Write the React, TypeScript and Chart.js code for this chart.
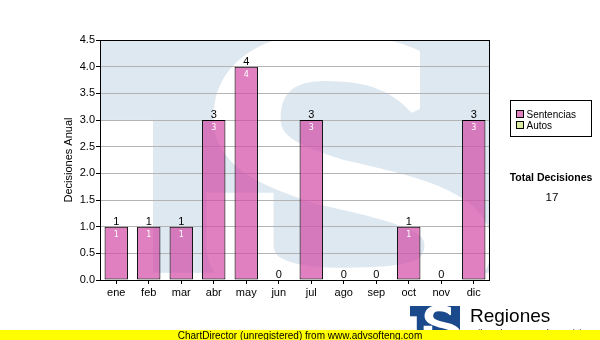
import React, { useEffect, useRef } from 'react';
import { Chart, registerables } from 'chart.js';

Chart.register(...registerables);

const months = ['ene', 'feb', 'mar', 'abr', 'may', 'jun', 'jul', 'ago', 'sep', 'oct', 'nov', 'dic'];
const sentencias = [1, 1, 1, 3, 4, 0, 3, 0, 0, 1, 0, 3];
const autos = [0, 0, 0, 0, 0, 0, 0, 0, 0, 0, 0, 0];
const seriesNames = ['Sentencias', 'Autos'];
const yMin = 0;
const yMax = 4.5;
const yStep = 0.5;
const yTitle = 'Decisiones Anual';
const totalTitle = 'Total Decisiones';
const brandText = 'Regiones';
const brandSub = 'Tribunal Supremo de Justicia';
const footerText = 'ChartDirector (unregistered) from www.advsofteng.com';

const FONT = '"Liberation Sans", Arial, sans-serif';
const PINK_BAR = 'rgba(211, 74, 165, 0.7)';
const PINK_LEG = '#e080c0';
const GREEN = '#d9ec9f';

// Logo drawn in a 390 x 233 design space, then scaled to (w, h)
function drawLogo(ctx: CanvasRenderingContext2D, x: number, y: number, w: number, h: number, blue: string) {
  const DW = 390, DH = 233;
  const off = document.createElement('canvas');
  off.width = Math.max(1, Math.ceil(w));
  off.height = Math.max(1, Math.ceil(h));
  const o = off.getContext('2d')!;
  o.scale(w / DW, h / DH);
  o.fillStyle = blue;
  o.fillRect(0, 0, DW, DH);
  o.globalCompositeOperation = 'destination-out';
  o.fillStyle = '#000';
  o.strokeStyle = '#000';
  o.fillRect(0, 80, 53, DH);
  const k = 1.4;
  const P = (px: number, py: number): [number, number] => [px / k, py];
  o.save();
  o.scale(k, 1);
  o.lineWidth = 48;
  o.lineCap = 'butt';
  o.lineJoin = 'round';
  o.beginPath();
  o.moveTo(...P(340, 60));
  o.bezierCurveTo(...P(310, 26), ...P(270, 17), ...P(225, 17));
  o.bezierCurveTo(...P(175, 17), ...P(147, 40), ...P(147, 78));
  o.bezierCurveTo(...P(147, 110), ...P(175, 125), ...P(230, 142));
  o.bezierCurveTo(...P(300, 158), ...P(358, 170), ...P(358, 205));
  o.bezierCurveTo(...P(358, 245), ...P(310, 252), ...P(245, 252));
  o.bezierCurveTo(...P(185, 252), ...P(140, 240), ...P(140, 205));
  o.lineTo(...P(140, 153));
  o.stroke();
  o.restore();
  o.globalCompositeOperation = 'source-over';
  o.fillStyle = blue;
  o.fillRect(320, 0, 70, 110);
  ctx.drawImage(off, x, y, off.width, off.height);
}

const decorPlugin = {
  id: 'decor',
  beforeDraw(chart: any) {
    const { ctx, chartArea: ca } = chart;
    ctx.save();
    ctx.fillStyle = '#fff';
    ctx.fillRect(0, 0, chart.width, chart.height);
    drawLogo(ctx, ca.left, ca.top, ca.right - ca.left, (ca.bottom - ca.top) * 0.97, '#dee8f1');
    ctx.restore();
  },
  afterDatasetsDraw(chart: any) {
    const { ctx } = chart;
    const meta = chart.getDatasetMeta(0);
    const yScale = chart.scales.y;
    ctx.save();
    ctx.textAlign = 'center';
    months.forEach((_, i) => {
      const tot = sentencias[i] + autos[i];
      const el = meta.data[i];
      const x = el.x;
      const yTop = yScale.getPixelForValue(tot);
      ctx.fillStyle = '#000';
      ctx.font = '11px ' + FONT;
      ctx.textBaseline = 'alphabetic';
      ctx.fillText(String(tot), x, yTop - 2);
      if (sentencias[i] > 0) {
        ctx.fillStyle = '#fff';
        ctx.font = '8px "DejaVu Sans"';
        ctx.textBaseline = 'middle';
        ctx.fillText(String(sentencias[i]), x, el.y + 8);
      }
    });
    ctx.restore();
  },
  afterDraw(chart: any) {
    const { ctx, chartArea: ca } = chart;
    ctx.save();
    ctx.strokeStyle = '#000';
    ctx.lineWidth = 1;
    ctx.strokeRect(Math.round(ca.left) + 0.5, Math.round(ca.top) + 0.5, Math.round(ca.right - ca.left) - 1, Math.round(ca.bottom - ca.top));

    ctx.save();
    ctx.translate(ca.left - 31, (ca.top + ca.bottom) / 2);
    ctx.rotate(-Math.PI / 2);
    ctx.fillStyle = '#000';
    ctx.font = '11px ' + FONT;
    ctx.textAlign = 'center';
    ctx.textBaseline = 'middle';
    ctx.fillText(yTitle, 0, 0);
    ctx.restore();

    const lx = ca.right + 20.5;
    const ly = 100.5;
    ctx.strokeStyle = '#000';
    ctx.strokeRect(lx, ly, 81, 36);
    const colors = [PINK_LEG, GREEN];
    ctx.font = '10px ' + FONT;
    ctx.textAlign = 'left';
    ctx.textBaseline = 'alphabetic';
    seriesNames.forEach((name, i) => {
      const sy = ly + 10 + i * 11;
      ctx.fillStyle = colors[i];
      ctx.fillRect(lx + 6, sy, 7, 7);
      ctx.strokeRect(lx + 6, sy, 7, 7);
      ctx.fillStyle = '#000';
      ctx.fillText(name, lx + 16, sy + 7);
    });

    const total = sentencias.reduce((a, b) => a + b, 0) + autos.reduce((a, b) => a + b, 0);
    ctx.textAlign = 'center';
    ctx.font = 'bold 10.5px ' + FONT;
    ctx.fillText(totalTitle, ca.right + 61, 181);
    ctx.font = '11.5px ' + FONT;
    ctx.fillText(String(total), ca.right + 62, 201);

    drawLogo(ctx, 410, 306, 50, 30, '#1a4a8c');
    ctx.fillStyle = '#000';
    ctx.textAlign = 'left';
    ctx.font = '19px ' + FONT;
    ctx.fillText(brandText, 470, 322);
    ctx.font = '9px ' + FONT;
    ctx.fillText(brandSub, 470, 336);

    ctx.fillStyle = '#ffff00';
    ctx.fillRect(0, 330, chart.width, 10);
    ctx.fillStyle = '#000';
    ctx.font = '10px ' + FONT;
    ctx.textAlign = 'center';
    ctx.textBaseline = 'alphabetic';
    ctx.fillText(footerText, chart.width / 2, 338.5);
    ctx.restore();
  },
};

export default function App() {
  const ref = useRef<HTMLCanvasElement>(null);
  useEffect(() => {
    document.body.style.margin = '0';
    Chart.defaults.font.family = FONT;
    const chart = new Chart(ref.current!, {
      type: 'bar',
      data: {
        labels: months,
        datasets: [
          {
            label: seriesNames[0],
            data: sentencias,
            backgroundColor: PINK_BAR,
            borderColor: '#000',
            borderWidth: 1,
            borderSkipped: false,
            barPercentage: 0.72,
            categoryPercentage: 1,
          },
          {
            label: seriesNames[1],
            data: autos,
            backgroundColor: GREEN,
            borderColor: '#000',
            borderWidth: 0,
            borderSkipped: false,
            barPercentage: 0.72,
            categoryPercentage: 1,
          },
        ],
      },
      options: {
        responsive: false,
        animation: false,
        events: [],
        layout: { padding: { left: 0, right: 110, top: 40, bottom: 0 } },
        plugins: { legend: { display: false }, tooltip: { enabled: false }, title: { display: false } },
        scales: {
          x: {
            stacked: true,
            afterFit: (s: any) => { s.height = 60; },
            grid: { offset: false, drawOnChartArea: false, drawTicks: true, tickLength: 4, tickColor: '#000', color: '#000' },
            border: { display: false },
            ticks: { color: '#000', font: { size: 11, family: FONT }, padding: 2, maxRotation: 0, autoSkip: false },
          },
          y: {
            stacked: true,
            min: yMin,
            max: yMax,
            afterFit: (s: any) => { s.width = 100; },
            grid: { color: '#b4b4b4', tickColor: '#000', tickLength: 4, drawTicks: true },
            border: { display: false },
            ticks: {
              stepSize: yStep,
              color: '#000',
              font: { size: 11, family: FONT },
              padding: 1,
              callback: (v: any) => Number(v).toFixed(1),
            },
          },
        },
      },
      plugins: [decorPlugin],
    });
    return () => chart.destroy();
  }, []);
  return <canvas ref={ref} width={600} height={340} style={{ display: 'block' }} />;
}
